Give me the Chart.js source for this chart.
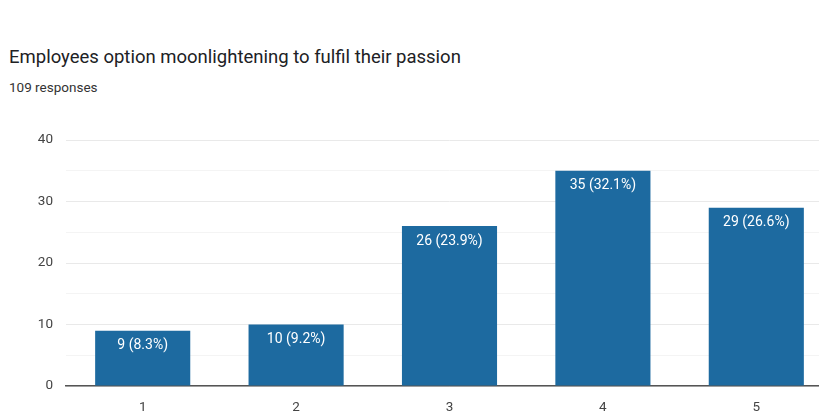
<!DOCTYPE html>
<html>
<head>
<meta charset="utf-8">
<script src="https://cdn.jsdelivr.net/npm/chart.js@4"></script>
<style>
    html, body { margin: 0; padding: 0; background: #fff; overflow: hidden; }
    body { width: 819px; height: 412px; position: relative; font-family: Roboto, Arial, sans-serif; }
    .title { position: absolute; left: 9px; top: 46px; font-size: 18.5px; color: #202124; white-space: nowrap; }
    .subtitle { position: absolute; left: 9px; top: 79px; font-size: 13.5px; color: #333; white-space: nowrap; }
    .chart-box { position: absolute; left: 0; top: 0; width: 836px; height: 412px; }
</style>
</head>
<body>
<div class="title">Employees option moonlightening to fulfil their passion</div>
<div class="subtitle">109 responses</div>
<div class="chart-box"><canvas id="responsesChart"></canvas></div>

<script>
// Answer options and how many people picked each
const options = ['1', '2', '3', '4', '5'];
const counts = [9, 10, 26, 35, 29];
const totalResponses = 109;
const yTicks = [0, 10, 20, 30, 40];

const barColor = '#1d6aa0';

// Writes "count (pct%)" just inside the top of each bar
const barLabels = {
    id: 'barLabels',
    afterDatasetsDraw(chart) {
        const ctx = chart.ctx;
        const meta = chart.getDatasetMeta(0);
        ctx.save();
        ctx.font = '14px Roboto, Arial, sans-serif';
        ctx.fillStyle = '#ffffff';
        ctx.textAlign = 'center';
        ctx.textBaseline = 'top';
        meta.data.forEach((bar, i) => {
            const pct = (counts[i] / totalResponses * 100).toFixed(1);
            ctx.fillText(counts[i] + ' (' + pct + '%)', bar.x, bar.y + 8);
        });
        ctx.restore();
    }
};

new Chart(document.getElementById('responsesChart'), {
    type: 'bar',
    data: {
        labels: options,
        datasets: [{
            data: counts,
            backgroundColor: barColor,
            barPercentage: 0.62,
            categoryPercentage: 1
        }]
    },
    options: {
        responsive: true,
        maintainAspectRatio: false,
        animation: false,
        layout: { padding: { top: 140, right: 3, bottom: 0, left: 0 } },
        plugins: {
            legend: { display: false },
            tooltip: { enabled: false }
        },
        scales: {
            x: {
                grid: { display: false },
                border: { display: true, color: '#555', width: 1.5 },
                ticks: {
                    color: '#444',
                    padding: 6,
                    font: { family: 'Roboto, Arial, sans-serif', size: 13.5 }
                },
                afterFit(scale) { scale.height = 26; }
            },
            y: {
                min: 0,
                max: yTicks[yTicks.length - 1],
                ticks: {
                    stepSize: 5,
                    color: '#444',
                    padding: 13,
                    font: { family: 'Roboto, Arial, sans-serif', size: 13.5 },
                    callback: v => yTicks.includes(v) ? v : ''
                },
                grid: {
                    drawTicks: false,
                    color: c => (c.tick && c.tick.value % 10 === 0) ? '#e9e9e9' : '#f4f4f4'
                },
                border: { display: false },
                afterFit(scale) { scale.width = 66; }
            }
        }
    },
    plugins: [barLabels]
});
</script>
</body>
</html>
